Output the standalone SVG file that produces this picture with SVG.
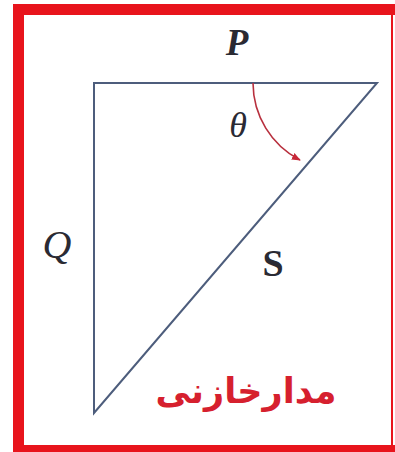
<svg xmlns="http://www.w3.org/2000/svg" width="395" height="452" viewBox="0 0 395 452">
<style>
.frame{fill:#e8141c}
.tri{fill:none;stroke:#4d5d7c;stroke-width:2;stroke-linejoin:miter}
.lbl{font-family:"Liberation Serif",serif;fill:#2a2a33}
.it{font-style:italic}
.arc{fill:none;stroke:#b8303e;stroke-width:1.6}
.fa{font-family:"DejaVu Sans","Noto Sans",sans-serif;font-weight:bold;fill:#d6202e}
</style>
<defs>
<marker id="ah" viewBox="0 0 10 10" refX="9" refY="5" markerWidth="9" markerHeight="9" markerUnits="userSpaceOnUse" orient="auto">
<path d="M0,1 L10,5 L0,9 Z" fill="#c82838"/>
</marker>
</defs>
<rect width="395" height="452" fill="#ffffff"/>
<g id="frame">
<rect class="frame" x="13" y="4" width="382" height="11"/>
<rect class="frame" x="13" y="4" width="11" height="448"/>
<rect class="frame" x="13" y="445" width="382" height="7"/>
<rect class="frame" x="391" y="4" width="2" height="448"/>
</g>
<g id="triangle">
<path class="tri" d="M94,83 L377,83 L94,413 Z"/>
</g>
<g id="connectors">
<path class="arc" d="M253,83 A87,87 0 0 0 300,160" marker-end="url(#ah)"/>
</g>
<g id="labels">
<text class="lbl it" x="237" y="55" font-size="37" font-weight="bold" text-anchor="middle">P</text>
<text class="lbl it" x="238" y="137" font-size="36" text-anchor="middle">θ</text>
<text class="lbl it" x="57" y="258" font-size="40" text-anchor="middle">Q</text>
<text class="lbl" x="273" y="276" font-size="38" font-weight="bold" text-anchor="middle">S</text>
<text class="fa" x="246" y="403" font-size="35" text-anchor="middle" direction="rtl">مدارخازنی</text>
</g>
</svg>
